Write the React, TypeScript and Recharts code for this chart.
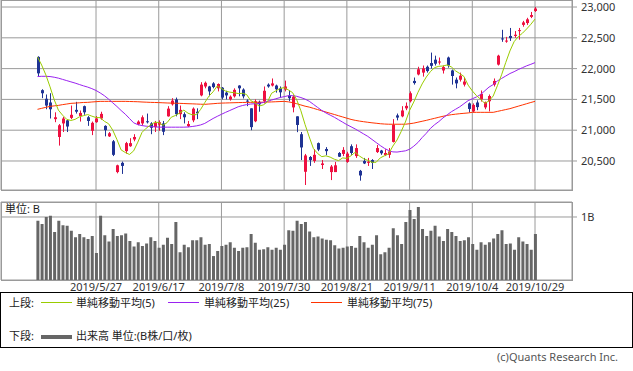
import { ComposedChart, Bar, Line, XAxis, YAxis, CartesianGrid } from "recharts";

// trading days 2019/5/7 .. 2019/10/29, index based; labels at every 15th day
const tickIdx = [14, 29, 44, 59, 74, 89, 104, 119];
const tickLabels = ["2019/5/27", "2019/6/17", "2019/7/8", "2019/7/30", "2019/8/21", "2019/9/11", "2019/10/4", "2019/10/29"];
const priceTicks = [20500, 21000, 21500, 22000, 22500, 23000];
const volTicks = [1];

const opens = [
  22190, 21650, 21510, 21450, 21180, 20890, 21110, 21160, 21200, 21330,
  21230, 21390, 21210, 20990, 21130, 21190, 21070, 20900, 20820, 20320,
  20470, 20660, 20740, 20850, 21095, 21110, 21145, 21110, 21050, 21090,
  21110, 21225, 21420, 21500, 21260, 21260, 21065, 21160, 21300, 21565,
  21710, 21710, 21760, 21680, 21690, 21610, 21500, 21550, 21725, 21660,
  21480, 21355, 21145, 21460, 21470, 21740, 21725, 21725, 21680, 21660,
  21565, 21370, 21225, 20935, 20325, 20565, 20500, 20790, 20435, 20695,
  20320, 20320, 20630, 20615, 20485, 20740, 20580, 20340, 20500, 20470,
  20515, 20645, 20670, 20595, 20600, 20810, 21240, 21225, 21355, 21470,
  21800, 21905, 21935, 22030, 22090, 22145, 22100, 21970, 22180, 21970,
  21820, 21820, 21740, 21435, 21305, 21450, 21500, 21370, 21470, 21740,
  22065, 22490, 22440, 22530, 22530, 22615, 22710, 22740, 22840, 22935,
];
const highs = [
  22200, 21665, 21580, 21600, 21290, 21100, 21215, 21165, 21400, 21460,
  21320, 21400, 21230, 21140, 21230, 21300, 21080, 20970, 20840, 20440,
  20490, 20810, 20870, 20935, 21160, 21240, 21270, 21130, 21150, 21160,
  21150, 21390, 21520, 21530, 21400, 21290, 21150, 21370, 21355, 21780,
  21790, 21720, 21780, 21760, 21700, 21640, 21565, 21680, 21730, 21680,
  21500, 21355, 21500, 21480, 21710, 21760, 21840, 21740, 21710, 21805,
  21650, 21565, 21225, 20970, 20615, 20580, 20695, 20800, 20515, 20725,
  20435, 20485, 20645, 20725, 20650, 20770, 20770, 20355, 20550, 20550,
  20530, 20760, 20680, 20690, 20710, 21180, 21270, 21390, 21450, 21630,
  21855, 22030, 22050, 22050, 22260, 22210, 22180, 22050, 22195, 21985,
  21855, 21935, 21850, 21450, 21435, 21485, 21645, 21465, 21580, 21840,
  22225, 22630, 22515, 22660, 22610, 22660, 22775, 22825, 22920, 23000,
];
const lows = [
  21870, 21520, 21340, 21190, 21130, 20750, 20970, 20970, 21180, 21270,
  21140, 21250, 21070, 20920, 21120, 21170, 20900, 20890, 20580, 20300,
  20290, 20620, 20730, 20820, 21080, 21080, 21110, 20935, 20970, 20990,
  20920, 21220, 21400, 21225, 21180, 21110, 21050, 21130, 21180, 21550,
  21680, 21550, 21680, 21630, 21500, 21500, 21480, 21530, 21550, 21515,
  21390, 21000, 21130, 21300, 21435, 21690, 21710, 21610, 21530, 21630,
  21470, 21290, 20968, 20515, 20110, 20420, 20470, 20660, 20370, 20595,
  20190, 20320, 20565, 20580, 20470, 20600, 20550, 20180, 20450, 20420,
  20370, 20630, 20600, 20580, 20550, 20800, 21160, 21210, 21325, 21450,
  21740, 21890, 21870, 21935, 22000, 22050, 22065, 21920, 22015, 21740,
  21680, 21790, 21710, 21290, 21290, 21325, 21465, 21340, 21305, 21710,
  22050, 22435, 22420, 22450, 22500, 22470, 22680, 22710, 22820, 22920,
];
const closes = [
  21923, 21600, 21400, 21340, 21210, 21080, 21190, 21060, 21250, 21300,
  21280, 21290, 21150, 21120, 21190, 21265, 21000, 20950, 20600, 20430,
  20420, 20790, 20790, 20890, 21140, 21210, 21130, 21040, 21120, 21130,
  20975, 21350, 21480, 21260, 21330, 21210, 21100, 21350, 21275, 21740,
  21770, 21630, 21700, 21750, 21530, 21565, 21545, 21655, 21680, 21550,
  21470, 21050, 21470, 21420, 21640, 21710, 21760, 21665, 21615, 21710,
  21520, 21545, 21085, 20720, 20590, 20515, 20600, 20685, 20460, 20660,
  20410, 20430, 20570, 20680, 20620, 20630, 20710, 20265, 20460, 20490,
  20470, 20710, 20625, 20630, 20655, 21090, 21205, 21320, 21395, 21600,
  21765, 21990, 22005, 21960, 22045, 22080, 22115, 22025, 22050, 21880,
  21760, 21885, 21790, 21345, 21410, 21375, 21590, 21455, 21555, 21800,
  22210, 22475, 22455, 22495, 22550, 22625, 22750, 22800, 22870, 22975,
];
const ma5 = [
  22189, 22058, 21898, 21704, 21495, 21326, 21244, 21176, 21158, 21176,
  21216, 21236, 21254, 21228, 21206, 21203, 21145, 21105, 21001, 20849,
  20680, 20638, 20606, 20664, 20806, 20964, 21032, 21082, 21128, 21126,
  21079, 21123, 21211, 21239, 21279, 21326, 21276, 21250, 21253, 21335,
  21447, 21553, 21623, 21718, 21676, 21635, 21618, 21609, 21595, 21599,
  21580, 21481, 21444, 21392, 21410, 21458, 21600, 21639, 21678, 21692,
  21654, 21611, 21495, 21316, 21092, 20891, 20702, 20622, 20570, 20584,
  20563, 20529, 20506, 20550, 20542, 20586, 20642, 20581, 20537, 20511,
  20479, 20479, 20551, 20585, 20618, 20742, 20841, 20980, 21133, 21322,
  21457, 21614, 21751, 21864, 21953, 22016, 22038, 22042, 22060, 22027,
  21963, 21920, 21873, 21732, 21638, 21561, 21502, 21435, 21477, 21555,
  21722, 21899, 22099, 22287, 22437, 22520, 22575, 22644, 22719, 22804,
];
const ma25 = [
  21871, 21875, 21875, 21871, 21860, 21845, 21825, 21805, 21785, 21765,
  21742, 21720, 21700, 21675, 21645, 21605, 21560, 21505, 21445, 21385,
  21320, 21260, 21190, 21120, 21090, 21075, 21065, 21060, 21055, 21050,
  21049, 21049, 21049, 21049, 21049, 21049, 21052, 21060, 21070, 21085,
  21110, 21150, 21190, 21225, 21258, 21290, 21320, 21350, 21380, 21400,
  21415, 21425, 21430, 21436, 21450, 21468, 21490, 21510, 21530, 21545,
  21560, 21562, 21550, 21530, 21505, 21470, 21420, 21370, 21320, 21280,
  21245, 21210, 21170, 21130, 21090, 21055, 21020, 20980, 20940, 20900,
  20850, 20800, 20750, 20705, 20670, 20648, 20645, 20655, 20665, 20690,
  20740, 20800, 20880, 20950, 21030, 21090, 21140, 21200, 21250, 21300,
  21340, 21380, 21430, 21480, 21510, 21540, 21580, 21640, 21700, 21740,
  21800, 21840, 21880, 21920, 21950, 21985, 22015, 22045, 22070, 22097,
];
const ma75 = [
  21339, 21355, 21371, 21387, 21395, 21403, 21415, 21425, 21436, 21440,
  21445, 21450, 21452, 21458, 21463, 21468, 21468, 21468, 21468, 21468,
  21468, 21468, 21466, 21464, 21462, 21458, 21455, 21452, 21450, 21448,
  21445, 21442, 21440, 21438, 21436, 21433, 21430, 21428, 21425, 21422,
  21420, 21425, 21430, 21436, 21440, 21442, 21444, 21446, 21448, 21450,
  21451, 21452, 21453, 21454, 21455, 21457, 21459, 21462, 21465, 21468,
  21460, 21448, 21430, 21410, 21390, 21375, 21355, 21335, 21315, 21295,
  21275, 21255, 21235, 21215, 21195, 21175, 21160, 21148, 21138, 21129,
  21120, 21113, 21105, 21100, 21097, 21097, 21097, 21097, 21097, 21105,
  21115, 21130, 21145, 21160, 21177, 21193, 21210, 21226, 21240, 21252,
  21260, 21268, 21274, 21280, 21290, 21290, 21290, 21290, 21290, 21290,
  21305, 21320, 21335, 21350, 21370, 21390, 21410, 21430, 21450, 21468,
];
// volume in billions of shares
const vols = [
  0.94, 0.89, 1.0, 1.02, 0.76, 0.94, 0.87, 0.86, 0.78, 0.68,
  0.73, 0.68, 0.65, 0.7, 0.43, 1.02, 0.71, 0.61, 0.81, 0.7,
  0.71, 0.74, 0.62, 0.53, 0.6, 0.54, 0.58, 0.68, 0.62, 0.51,
  0.56, 0.67, 0.57, 0.92, 0.44, 0.56, 0.52, 0.63, 0.63, 0.68,
  0.56, 0.57, 0.38, 0.46, 0.54, 0.56, 0.6, 0.51, 0.46, 0.51,
  0.52, 0.73, 0.59, 0.48, 0.49, 0.52, 0.48, 0.51, 0.48, 0.56,
  0.79, 0.78, 0.94, 0.89, 0.92, 0.77, 0.68, 0.69, 0.66, 0.64,
  0.63, 0.55, 0.5, 0.51, 0.53, 0.54, 0.51, 0.7, 0.6, 0.51,
  0.56, 0.71, 0.41, 0.44, 0.51, 0.82, 0.71, 0.57, 0.92, 1.11,
  0.97, 1.16, 0.81, 0.7, 0.78, 0.86, 0.69, 0.62, 0.81, 0.76,
  0.7, 0.62, 0.63, 0.68, 0.57, 0.48, 0.6, 0.56, 0.6, 0.66,
  0.73, 0.79, 0.57, 0.58, 0.48, 0.68, 0.61, 0.57, 0.48, 0.73,
];

const UP = "#ee1040";
const DOWN = "#1f3394";
const GRID = "#9a9a9a";
const FONT = "'Noto Sans', 'Noto Sans CJK JP', sans-serif";

const rows = closes.map((c, i) => ({
  i,
  open: opens[i],
  high: highs[i],
  low: lows[i],
  close: c,
  range: [lows[i], highs[i]],
  ma5: ma5[i],
  ma25: ma25[i],
  ma75: ma75[i],
  vol: vols[i],
}));

const pad = { left: 34.4, right: 34.9 };

function Candle(props: any) {
  const { x, y, width, height, payload } = props;
  if (x == null || y == null) return null;
  const top = Math.min(y, y + height);
  const h = Math.abs(height);
  const span = payload.high - payload.low || 1;
  const toY = (v: number) => top + ((payload.high - v) / span) * h;
  const yo = toY(payload.open);
  const yc = toY(payload.close);
  const cx = Math.round(x + width / 2);
  const color = payload.close >= payload.open ? UP : DOWN;
  const bTop = Math.min(yo, yc);
  const bH = Math.max(1, Math.abs(yo - yc));
  return (
    <g>
      <line x1={cx + 0.5} x2={cx + 0.5} y1={top} y2={top + h} stroke={color} strokeWidth={1} />
      <rect x={cx - 1} y={bTop} width={3} height={bH} fill={color} />
    </g>
  );
}

const fmt = (v: number) => v.toLocaleString("en-US");
const labelFor = (v: number) => tickLabels[tickIdx.indexOf(v)] ?? "";

const legendText: React.CSSProperties = { position: "absolute", fontSize: 11, color: "#222", whiteSpace: "nowrap", lineHeight: "14px" };
const swatch = (left: number, top: number, color: string, h = 1): React.CSSProperties => ({
  position: "absolute", left, top, width: 31, height: 0, borderTop: `${h}px solid ${color}`,
});

export default function App() {
  return (
    <div style={{ position: "absolute", left: 0, top: 0, width: 633, height: 371, background: "#fff", fontFamily: FONT, overflow: "hidden" }}>
      {/* price panel */}
      <div style={{ position: "absolute", left: 0, top: 0 }}>
        <ComposedChart width={633} height={190} data={rows} margin={{ top: 0, right: 0, bottom: 0, left: 1 }}>
          <CartesianGrid stroke={GRID} vertical horizontal />
          <XAxis dataKey="i" type="category" ticks={tickIdx} padding={pad} hide />
          <YAxis
            orientation="right"
            width={61}
            domain={[20029, 23114]}
            allowDataOverflow
            ticks={priceTicks}
            tickFormatter={fmt}
            tick={{ fontSize: 11, fill: "#333" }}
            tickSize={5}
            tickMargin={4}
            tickLine={{ stroke: GRID }}
            axisLine={false}
          />
          <Bar dataKey="range" barSize={3} shape={<Candle />} isAnimationActive={false} />
          <Line dataKey="ma75" stroke="#ff3300" strokeWidth={1} dot={false} isAnimationActive={false} />
          <Line dataKey="ma25" stroke="#9a22f0" strokeWidth={1} dot={false} isAnimationActive={false} />
          <Line dataKey="ma5" stroke="#9acc00" strokeWidth={1} dot={false} isAnimationActive={false} />
        </ComposedChart>
      </div>
      <div style={{ position: "absolute", left: 1, top: 0, width: 572, height: 191, border: `1px solid ${GRID}`, boxSizing: "border-box", pointerEvents: "none" }} />

      {/* volume panel */}
      <div style={{ position: "absolute", left: 0, top: 190 }}>
        <ComposedChart width={633} height={112} data={rows} margin={{ top: 12, right: 0, bottom: 0, left: 1 }}>
          <CartesianGrid stroke={GRID} vertical horizontal />
          <XAxis
            dataKey="i"
            type="category"
            ticks={tickIdx}
            padding={pad}
            height={22}
            tickFormatter={labelFor}
            tick={{ fontSize: 11, fill: "#333" }}
            tickLine={false}
            tickSize={0}
            tickMargin={3}
            axisLine={false}
            interval={0}
          />
          <YAxis
            orientation="right"
            width={61}
            domain={[0, 1.238]}
            allowDataOverflow
            ticks={volTicks}
            tickFormatter={(v: number) => `${v}B`}
            tick={{ fontSize: 11, fill: "#333" }}
            tickSize={5}
            tickMargin={4}
            tickLine={{ stroke: GRID }}
            axisLine={false}
          />
          <Bar dataKey="vol" fill="#666" barSize={3} isAnimationActive={false} />
        </ComposedChart>
      </div>
      <div style={{ position: "absolute", left: 1, top: 202, width: 572, height: 79, border: `1px solid ${GRID}`, boxSizing: "border-box", pointerEvents: "none" }} />
      <div style={{ ...legendText, left: 5, top: 202 }}>単位: B</div>

      {/* legend */}
      <div style={{ position: "absolute", left: 0, top: 292, width: 633, height: 56, border: "1px solid #000", boxSizing: "border-box" }}>
        <div style={{ ...legendText, left: 8, top: 3 }}>上段:</div>
        <div style={swatch(40, 9, "#9acc00")} />
        <div style={{ ...legendText, left: 75, top: 3 }}>単純移動平均(5)</div>
        <div style={swatch(167, 9, "#9a22f0")} />
        <div style={{ ...legendText, left: 203, top: 3 }}>単純移動平均(25)</div>
        <div style={swatch(310, 9, "#ff3300")} />
        <div style={{ ...legendText, left: 346, top: 3 }}>単純移動平均(75)</div>
        <div style={{ ...legendText, left: 8, top: 36 }}>下段:</div>
        <div style={swatch(40, 42, "#666", 4)} />
        <div style={{ ...legendText, left: 75, top: 36 }}>出来高 単位:(B株/口/枚)</div>
      </div>
      <div style={{ ...legendText, left: 497, top: 350, color: "#555" }}>(c)Quants Research Inc.</div>
    </div>
  );
}
